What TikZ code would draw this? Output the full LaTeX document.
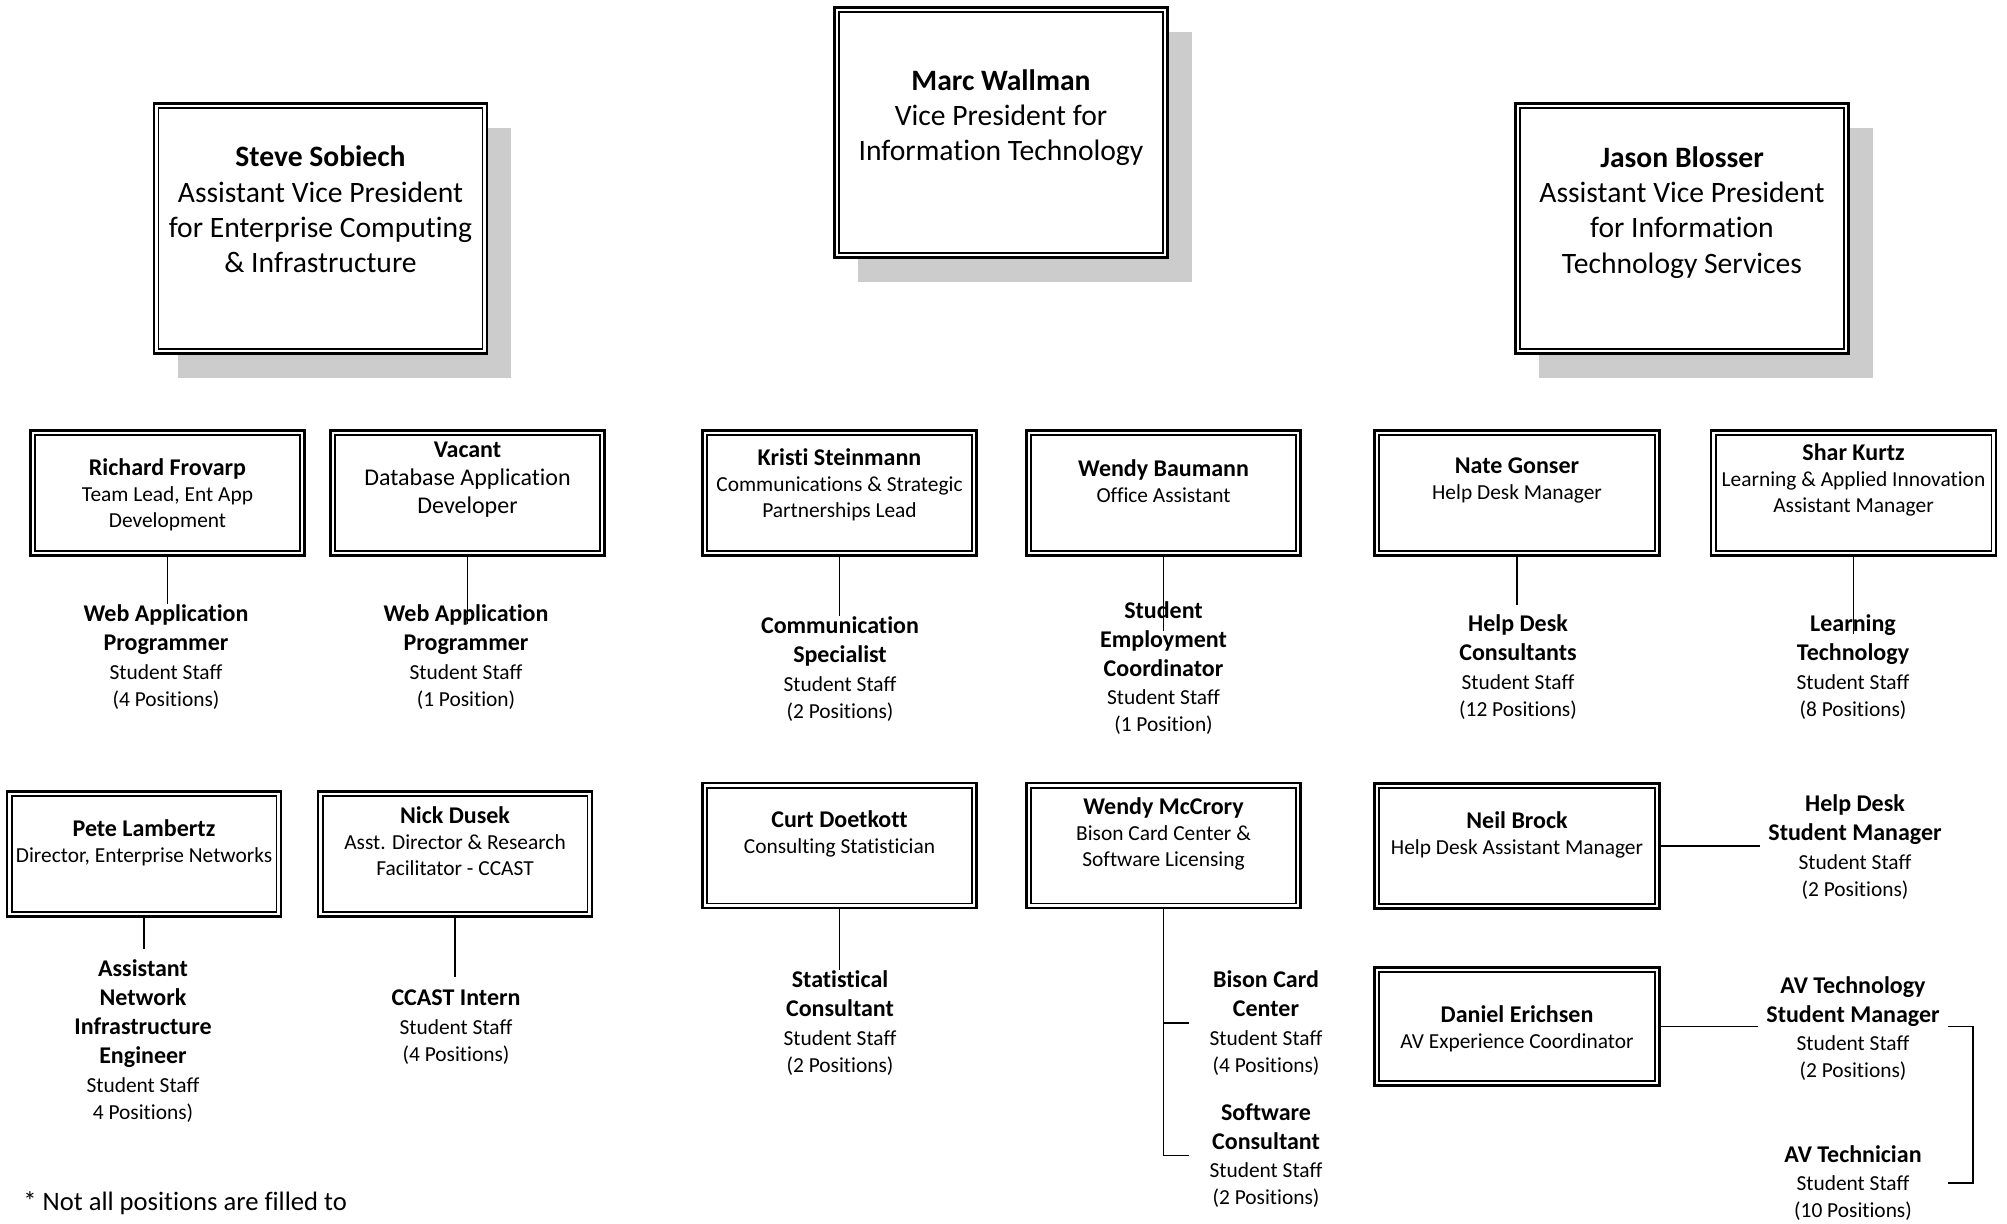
\documentclass[tikz,border=0pt]{standalone}
\usepackage{fontspec}
\setmainfont{Carlito}[Ligatures=NoCommon]
\usetikzlibrary{shadows}

\newcommand{\nm}[1]{{\bfseries\fontsize{12}{14.5}\selectfont #1}}

\tikzset{
  orgframe/.style={draw, line width=1.35pt, fill=white, inner sep=0pt,
    path picture={\draw[line width=0.9pt]
      ([shift={(2.3pt,2.3pt)}]path picture bounding box.south west) rectangle
      ([shift={(-2.3pt,-2.3pt)}]path picture bounding box.north east);}},
  vpbox/.style={orgframe, minimum width=166.6pt, minimum height=125pt,
    drop shadow={shadow xshift=12pt, shadow yshift=-12pt, fill=black!20, opacity=1}},
  staffbox/.style={orgframe, minimum width=137pt, minimum height=62.5pt},
  widebox/.style={orgframe, minimum width=142.5pt, minimum height=62.5pt},
  vptext/.style={align=center, font=\fontsize{14.8}{17.6}\selectfont},
  stafftext/.style={align=center, font=\fontsize{10.7}{13}\selectfont},
  jobs/.style={align=center, inner xsep=4pt, inner ysep=0pt, font=\fontsize{10.7}{13.4}\selectfont},
  link/.style={line width=0.8pt}
}

\begin{document}
\begin{tikzpicture}[x=0.5pt, y=-0.5pt]
    \useasboundingbox (0,0) rectangle (2007,1223);

    % Top row - vice presidents
    \node[vpbox] (marc) at (1001,132.5) {};
    \node[vptext] (marct) at (1001,117.5) {\textbf{Marc Wallman}\\Vice President for\\Information Technology};
    \node[vpbox] (steve) at (320.5,228.5) {};
    \node[vptext] (stevet) at (320.5,209.5) {\textbf{Steve Sobiech}\\Assistant Vice President\\for Enterprise Computing\\\& Infrastructure};
    \node[vpbox] (jason) at (1682,228.5) {};
    \node[vptext] (jasont) at (1682,212.5) {\textbf{Jason Blosser}\\Assistant Vice President\\for Information\\Technology Services};

    % Second row - staff
    \node[staffbox] (rich) at (167.5,493) {};
    \node[stafftext] (richt) at (167.5,495) {\nm{Richard Frovarp}\\Team Lead, Ent App\\Development};
    \node[staffbox] (vacant) at (467.5,493) {};
    \node[stafftext, font=\fontsize{12}{14}\selectfont] (vacantt) at (467.5,479.5) {\nm{Vacant}\\Database Application\\Developer};
    \node[staffbox] (kristi) at (839.5,493) {};
    \node[stafftext] (kristit) at (839.5,484.5) {\nm{Kristi Steinmann}\\Communications \& Strategic\\Partnerships Lead};
    \node[staffbox] (wendyb) at (1163.5,493) {};
    \node[stafftext] (wendybt) at (1163.5,481) {\nm{Wendy Baumann}\\Office Assistant};
    \node[widebox] (nate) at (1517,493) {};
    \node[stafftext] (natet) at (1517,480.5) {\nm{Nate Gonser}\\Help Desk Manager};
    \node[widebox] (shar) at (1853.5,493) {};
    \node[stafftext] (shart) at (1853.5,480) {\nm{Shar Kurtz}\\Learning \& Applied Innovation\\Assistant Manager};

    % Second row - student staff
    \node[jobs] (richlab) at (166,657) {\nm{Web Application}\\[1.1pt]\nm{Programmer}\\[1pt]Student Staff\\(4 Positions)};
    \node[jobs] (vaclab) at (466,657) {\nm{Web Application}\\[1.1pt]\nm{Programmer}\\[1pt]Student Staff\\(1 Position)};
    \node[jobs] (krislab) at (840,669) {\nm{Communication}\\[1.1pt]\nm{Specialist}\\[1pt]Student Staff\\(2 Positions)};
    \node[jobs] (wblab) at (1163.5,668) {\nm{Student}\\[1.1pt]\nm{Employment}\\[1.1pt]\nm{Coordinator}\\[1pt]Student Staff\\(1 Position)};
    \node[jobs] (natelab) at (1518,667) {\nm{Help Desk}\\[1.1pt]\nm{Consultants}\\[1pt]Student Staff\\(12 Positions)};
    \node[jobs] (sharlab) at (1853,667) {\nm{Learning}\\[1.1pt]\nm{Technology}\\[1pt]Student Staff\\(8 Positions)};

    \draw[link] (rich.south) -- (rich.south |- richlab.north);
    \draw[link, shorten >=-10pt] (vacant.south) -- (vacant.south |- vaclab.north);
    \draw[link] (kristi.south) -- (kristi.south |- krislab.north);
    \draw[link, shorten >=-15pt] (wendyb.south) -- (wendyb.south |- wblab.north);
    \draw[link, shorten >=4.5pt] (nate.south) -- (nate.south |- natelab.north);
    \draw[link, shorten >=-10pt] (shar.south) -- (shar.south |- sharlab.north);

    % Third row - staff
    \node[staffbox] (pete) at (144,854) {};
    \node[stafftext] (petet) at (144,842.5) {\nm{Pete Lambertz}\\Director, Enterprise Networks};
    \node[staffbox] (nick) at (455,854) {};
    \node[stafftext] (nickt) at (455,841.5) {\nm{Nick Dusek}\\Asst. Director \& Research\\Facilitator - CCAST};
    \node[staffbox] (curt) at (839.5,845.5) {};
    \node[stafftext] (curtt) at (839.5,833.5) {\nm{Curt Doetkott}\\Consulting Statistician};
    \node[staffbox] (wendym) at (1163.5,845.5) {};
    \node[stafftext] (wendymt) at (1163.5,834) {\nm{Wendy McCrory}\\Bison Card Center \&\\Software Licensing};
    \node[widebox] (neil) at (1517,846) {};
    \node[stafftext] (neilt) at (1517,834.5) {\nm{Neil Brock}\\Help Desk Assistant Manager};
    \node[widebox, minimum height=59pt] (daniel) at (1517,1026.5) {};
    \node[stafftext] (danielt) at (1517,1029) {\nm{Daniel Erichsen}\\AV Experience Coordinator};

    % Third row - student staff
    \node[jobs] (petelab) at (143,1041) {\nm{Assistant}\\[1.1pt]\nm{Network}\\[1.1pt]\nm{Infrastructure}\\[1.1pt]\nm{Engineer}\\[1pt]Student Staff\\4 Positions)};
    \node[jobs] (nicklab) at (456,1027) {\nm{CCAST Intern}\\[1pt]Student Staff\\(4 Positions)};
    \node[jobs] (curtlab) at (840,1023) {\nm{Statistical}\\[1.1pt]\nm{Consultant}\\[1pt]Student Staff\\(2 Positions)};
    \node[jobs] (bisonlab) at (1266,1023) {\nm{Bison Card}\\[1.1pt]\nm{Center}\\[1pt]Student Staff\\(4 Positions)};
    \node[jobs] (softlab) at (1266,1155.5) {\nm{Software}\\[1.1pt]\nm{Consultant}\\[1pt]Student Staff\\(2 Positions)};
    \node[jobs] (neillab) at (1855,847) {\nm{Help Desk}\\[1.1pt]\nm{Student Manager}\\[1pt]Student Staff\\(2 Positions)};
    \node[jobs] (avmlab) at (1853,1028.5) {\nm{AV Technology}\\[1.1pt]\nm{Student Manager}\\[1pt]Student Staff\\(2 Positions)};
    \node[jobs] (avtlab) at (1853,1183) {\nm{AV Technician}\\[1pt]Student Staff\\(10 Positions)};

    \draw[link, shorten >=5pt] (pete.south) -- (pete.south |- petelab.north);
    \draw[link, shorten >=6pt] (nick.south) -- (nick.south |- nicklab.north);
    \draw[link] (curt.south) -- (curt.south |- curtlab.north);
    \draw[link, shorten >=6pt] (wendym.south) |- (bisonlab.west);
    \draw[link, shorten >=6pt] (wendym.south) |- (softlab.west);
    \draw[link] (neil.east) -- (neil.east -| neillab.west);
    \draw[link] (daniel.east) -- (daniel.east -| avmlab.west);
    \draw[link, shorten >=9pt] (avmlab.east |- daniel.east) -- ++(25,0) |- (avtlab.east);

    % footnote
    \node[anchor=west, inner sep=0pt, font=\fontsize{13.3}{16}\selectfont] (note) at (23,1203) {* Not all positions are filled to};
\end{tikzpicture}
\end{document}
